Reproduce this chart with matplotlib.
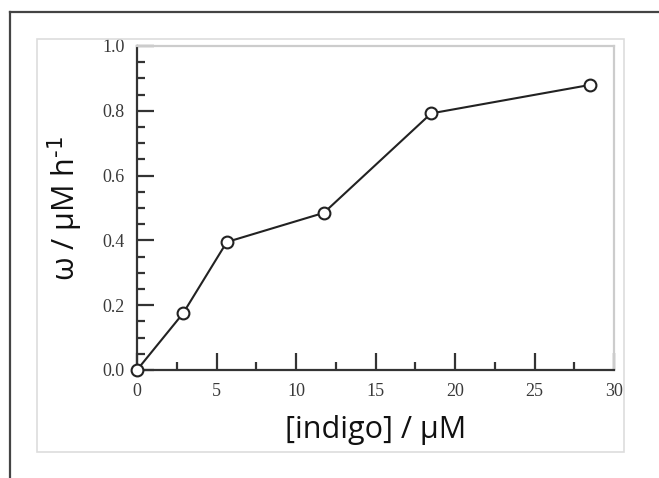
import matplotlib
matplotlib.use('Agg')
import matplotlib.pyplot as plt
from matplotlib.lines import Line2D
from matplotlib.patches import Rectangle
from matplotlib.ticker import MultipleLocator

# rate vs. indigo concentration
indigo = [0, 2.9, 5.65, 11.75, 18.5, 28.5]
rate = [0, 0.175, 0.395, 0.485, 0.792, 0.880]

xticks = [0, 5, 10, 15, 20, 25, 30]
yticks = [0.0, 0.2, 0.4, 0.6, 0.8, 1.0]

fig = plt.figure(figsize=(6.59, 4.78), dpi=100)

# frame lines and the light inner box around the plot
fig.add_artist(Line2D([10/659, 658/659], [1 - 12/478, 1 - 12/478], color='#444444', lw=1.6))
fig.add_artist(Line2D([10/659, 10/659], [0, 1 - 12/478], color='#444444', lw=1.6))
fig.add_artist(Rectangle((37/659, 1 - 452/478), (624 - 37)/659, (452 - 39)/478,
                         fill=False, edgecolor='#dddddd', lw=1.2))

ax = fig.add_axes([137/659, 1 - 370/478, (614 - 137)/659, (370 - 46)/478])

ax.plot(indigo, rate, color='#222222', lw=1.5, marker='o', ms=8.5,
        mfc='white', mec='#222222', mew=1.5, clip_on=False, zorder=5)

ax.set_xlim(0, 30)
ax.set_ylim(0, 1.0)
ax.set_xticks(xticks)
ax.set_yticks(yticks)
ax.set_xticklabels([str(t) for t in xticks])
ax.set_yticklabels(['%.1f' % t for t in yticks])
ax.xaxis.set_minor_locator(MultipleLocator(2.5))
ax.yaxis.set_minor_locator(MultipleLocator(0.05))

for s in ['left', 'bottom']:
    ax.spines[s].set_color('#333333')
    ax.spines[s].set_linewidth(1.6)
for s in ['top', 'right']:
    ax.spines[s].set_color('#cccccc')
    ax.spines[s].set_linewidth(1.6)

ax.tick_params(which='both', direction='in', top=False, right=False,
               color='#333333', width=1.6)
ax.tick_params(which='major', length=12, pad=9, labelsize=13,
               labelcolor='#3a3a3a')
ax.tick_params(which='minor', length=6)
for lab in ax.get_xticklabels() + ax.get_yticklabels():
    lab.set_family('Liberation Serif')

ax.set_xlabel('[indigo] / μM', family='Open Sans', fontsize=22,
              fontweight='medium', color='#111111', labelpad=11)
ax.set_ylabel('ω / μM h$^{\\text{-}1}$', family='Open Sans', fontsize=22,
              fontweight='medium', color='#111111', labelpad=12)

fig.savefig('out.png', dpi=100)
